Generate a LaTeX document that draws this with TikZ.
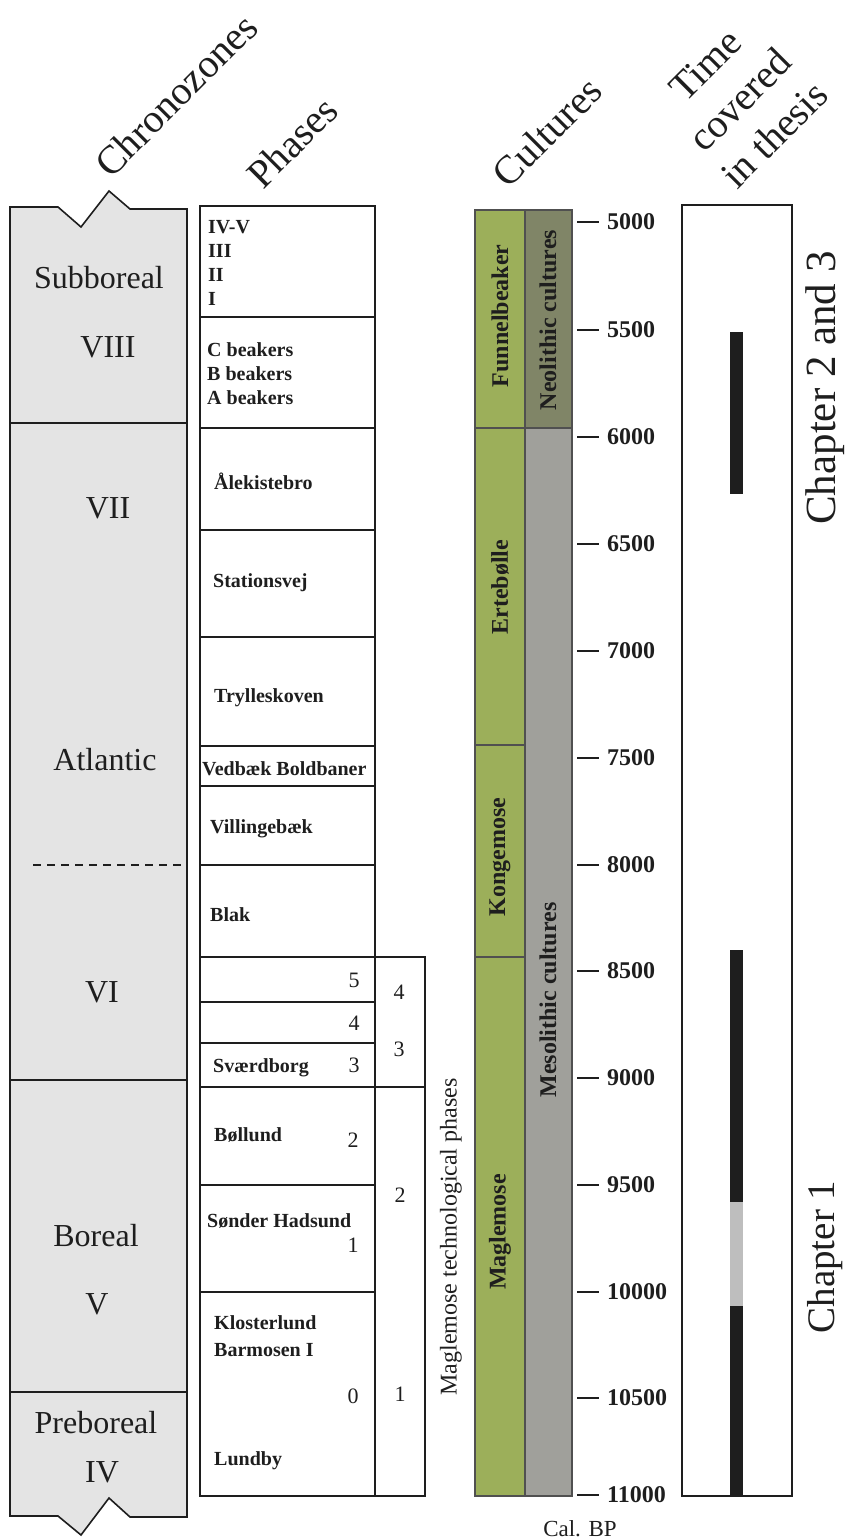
\documentclass[tikz,border=0pt]{standalone}
\usepackage{fontspec}
\setmainfont{Liberation Serif}
\definecolor{chrono}{RGB}{228,228,228}
\definecolor{cgreen}{RGB}{156,175,90}
\definecolor{cneo}{RGB}{128,133,103}
\definecolor{cmeso}{RGB}{160,160,155}
\definecolor{cedge}{RGB}{80,80,80}
\definecolor{tgray}{RGB}{190,190,190}
\definecolor{ink}{RGB}{30,30,30}
\begin{document}
\begin{tikzpicture}[x=1pt,y=-1pt]
\useasboundingbox (0,0) rectangle (845,1539);
\tikzset{
 box/.style={draw=ink, line width=1.6pt},
 hdr/.style={font=\fontsize{40}{49}\selectfont, rotate=45, anchor=center, inner sep=0pt, align=center, text=ink},
 zone/.style={font=\fontsize{32}{38}\selectfont, inner sep=0pt, text=ink},
 ph/.style={font=\fontsize{20}{24}\selectfont\bfseries, anchor=base west, inner sep=0pt, text=ink},
 num/.style={font=\fontsize{22}{26}\selectfont, anchor=base, inner sep=0pt, text=ink},
 cul/.style={font=\fontsize{24}{28}\selectfont\bfseries, rotate=90, inner sep=0pt, text=ink},
 ticklab/.style={font=\fontsize{24}{28}\selectfont\bfseries, anchor=west, inner sep=0pt, text=ink},
 cbox/.style={draw=cedge, line width=1.3pt},
 chap/.style={rotate=90, inner sep=0pt, text=ink},
}
% headers
\node[hdr] (hChrono) at (176,95) {Chronozones};
\node[hdr] (hPhases) at (292,142) {Phases};
\node[hdr] (hCult) at (547,132) {Cultures};
\node[hdr] (hTime) at (740,100) {Time\\covered\\in thesis};

% chronozones column
\filldraw[fill=chrono, box] (10,207) -- (58,207) -- (81,227) -- (109,191) -- (130,209) -- (187,209)
  -- (187,1517) -- (130,1517) -- (109,1498) -- (81,1535) -- (58,1516) -- (10,1516) -- cycle;
\draw[box] (10,423) -- (187,423);
\draw[box] (10,1080) -- (187,1080);
\draw[box] (10,1392) -- (187,1392);
\draw[ink, line width=1.3pt, dash pattern=on 8pt off 6pt] (33,865) -- (187,865);
\node[zone] (zSub) at (99,278) {Subboreal};
\node[zone] (zVIII) at (108,347) {VIII};
\node[zone] (zVII) at (108,508) {VII};
\node[zone] (zAtl) at (105,760) {Atlantic};
\node[zone] (zVI) at (102,992) {VI};
\node[zone] (zBor) at (96,1236) {Boreal};
\node[zone] (zV) at (97,1304) {V};
\node[zone] (zPre) at (96,1423) {Preboreal};
\node[zone] (zIV) at (102,1472) {IV};

% phases column
\draw[box] (200,206) rectangle (375,1496);
\foreach \yy in {317,428,530,637,746,786,865,957,1002,1043,1087,1185,1292}
  \draw[box] (200,\yy) -- (375,\yy);
\draw[box] (375,957) -- (425,957) -- (425,1496) -- (375,1496);
\draw[box] (375,1087) -- (425,1087);

\node[ph] (p1) at (208,233) {IV-V};
\node[ph] (p2) at (208,257) {III};
\node[ph] (p3) at (208,281) {II};
\node[ph] (p4) at (208,305) {I};
\node[ph] (p5) at (207,356) {C beakers};
\node[ph] (p6) at (207,380) {B beakers};
\node[ph] (p7) at (207,404) {A beakers};
\node[ph] (p8) at (214,489) {Ålekistebro};
\node[ph] (p9) at (213,587) {Stationsvej};
\node[ph] (p10) at (214,702) {Trylleskoven};
\node[ph] (p11) at (202,775) {Vedbæk Boldbaner};
\node[ph] (p12) at (210,833) {Villingebæk};
\node[ph] (p13) at (210,921) {Blak};
\node[ph] (p14) at (213,1072) {Sværdborg};
\node[ph] (p15) at (214,1141) {Bøllund};
\node[ph] (p16) at (207,1227) {Sønder Hadsund};
\node[ph] (p17) at (214,1329) {Klosterlund};
\node[ph] (p18) at (214,1356) {Barmosen I};
\node[ph] (p19) at (214,1465) {Lundby};

\node[num] (n5) at (354,987) {5};
\node[num] (n4) at (354,1030) {4};
\node[num] (n3) at (354,1072) {3};
\node[num] (n2) at (353,1147) {2};
\node[num] (n1) at (353,1252) {1};
\node[num] (n0) at (353,1403) {0};
\node[num] (m4) at (399,999) {4};
\node[num] (m3) at (399,1056) {3};
\node[num] (m2) at (400,1202) {2};
\node[num] (m1) at (400,1401) {1};
\node[font=\fontsize{24}{28}\selectfont, rotate=90, inner sep=0pt, text=ink] (mtp) at (451,1237) {Maglemose technological phases};

% cultures column
\filldraw[fill=cgreen, cbox] (475,210) rectangle (525,428);
\filldraw[fill=cneo, cbox] (525,210) rectangle (572,428);
\filldraw[fill=cgreen, cbox] (475,428) rectangle (525,745);
\filldraw[fill=cgreen, cbox] (475,745) rectangle (525,957);
\filldraw[fill=cgreen, cbox] (475,957) rectangle (525,1496);
\filldraw[fill=cmeso, cbox] (525,428) rectangle (572,1496);
\node[cul] (cFun) at (500,316) {Funnelbeaker};
\node[cul] (cNeo) at (548,320) {Neolithic cultures};
\node[cul] (cErt) at (500,587) {Ertebølle};
\node[cul] (cKon) at (500,857) {Kongemose};
\node[cul] (cMes) at (548,1000) {Mesolithic cultures};
\node[cul] (cMag) at (500,1232) {Maglemose};

% time axis
\foreach \v/\yy in {5000/222,5500/330,6000/437,6500/544,7000/651,7500/758,8000/865,8500/971,9000/1078,9500/1185,10000/1292,10500/1398,11000/1495}{
  \coordinate (t\v) at (599,\yy);
  \draw[ink, line width=1.2pt] (577,\yy) -- (t\v);
  \node[ticklab] (l\v) at (607,\yy) {\v};
}
\node[font=\fontsize{23}{27}\selectfont, inner sep=0pt, text=ink] (calbp) at (580,1529) {Cal. BP};

% time covered column
\draw[box] (682,205) rectangle (792,1496);
\fill[ink] (730,332) rectangle (743,494);
\fill[ink] (730,950) rectangle (743,1202);
\fill[tgray] (730,1202) rectangle (743,1306);
\fill[ink] (730,1306) rectangle (743,1496);
\node[chap, font=\fontsize{43}{50}\selectfont] (ch23) at (825,388) {Chapter 2 and 3};
\node[chap, font=\fontsize{39}{46}\selectfont] (ch1) at (825,1257) {Chapter 1};
\end{tikzpicture}
\end{document}
